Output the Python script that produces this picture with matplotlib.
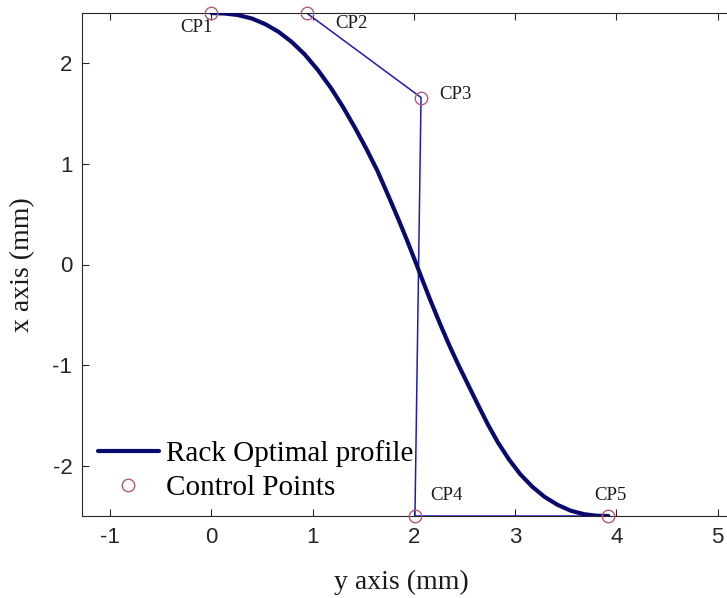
import numpy as np
import matplotlib
matplotlib.use("Agg")
import matplotlib.pyplot as plt

plt.rcParams["axes.unicode_minus"] = False

# control points (y axis, x axis) in mm
cp_y = [0.0, 0.94, 2.07, 2.01, 3.92]
cp_x = [2.5, 2.5, 1.66, -2.5, -2.5]
cp_names = ["CP1", "CP2", "CP3", "CP4", "CP5"]

# rack profile
prof_y = [0.00, 0.13, 0.26, 0.40, 0.53, 0.66, 0.79, 0.92, 1.05, 1.18, 1.30, 1.42,
          1.53, 1.64, 1.74, 1.84, 1.93, 2.01, 2.09, 2.17, 2.26, 2.35, 2.44, 2.53,
          2.63, 2.73, 2.83, 2.94, 3.05, 3.17, 3.29, 3.42, 3.55, 3.68, 3.80, 3.92]
prof_x = [2.500, 2.495, 2.480, 2.445, 2.390, 2.315, 2.215, 2.090, 1.935, 1.755, 1.565, 1.355,
          1.150, 0.930, 0.700, 0.465, 0.245, 0.040, -0.170, -0.375, -0.595, -0.805, -1.000, -1.185,
          -1.390, -1.590, -1.770, -1.940, -2.085, -2.210, -2.310, -2.390, -2.448, -2.482, -2.497, -2.500]

# label offsets in points (layout only)
lab_off = [(-10.5, -10.5), (32.5, -7.5), (24.5, 2.5), (23, 15), (1.5, 15)]

fig = plt.figure(figsize=(7.27, 5.98), dpi=100)
W, H = 727, 598
ax = fig.add_axes([82 / W, 82 / H, 658 / W, 503 / H])

ax.plot(cp_y, cp_x, color="#1c1cb4", lw=1.1, zorder=2)
ax.plot(prof_y, prof_x, color="#0a0a6e", lw=3.0, solid_capstyle="round",
        solid_joinstyle="round", label="Rack Optimal profile", zorder=3)
ax.plot(cp_y, cp_x, ls="none", marker="o", ms=9, mfc="none", mec="#b35a78",
        mew=1.0, label="Control Points", zorder=4, clip_on=False)

for yy, xx, name, off in zip(cp_y, cp_x, cp_names, lab_off):
    ax.annotate(name, (yy, xx), xytext=off, textcoords="offset points",
                ha="center", va="center", fontsize=13.5,
                family="Liberation Serif", color="#1a1a1a")

ax.set_xlim(-1.278, 5.22)
ax.set_ylim(-2.5, 2.5)
ax.set_xticks([-1, 0, 1, 2, 3, 4, 5])
ax.set_yticks([-2, -1, 0, 1, 2])
ax.tick_params(direction="in", top=True, right=True, length=5, width=0.8,
               colors="#262626", labelsize=16)
ax.tick_params(axis="x", pad=8)
ax.tick_params(axis="y", pad=7)
for lab in ax.get_xticklabels() + ax.get_yticklabels():
    lab.set_family("Liberation Sans")
for s in ax.spines.values():
    s.set_color("#262626")
    s.set_linewidth(0.8)

ax.set_xlabel("y axis (mm)", fontsize=20, family="Liberation Serif", color="#1a1a1a")
ax.set_ylabel("x axis (mm)", fontsize=20, family="Liberation Serif", color="#1a1a1a")
ax.xaxis.label.set_va("center")
ax.yaxis.label.set_va("center")
ax.xaxis.set_label_coords(0.486, -0.133)
ax.yaxis.set_label_coords(-0.0897, 0.50)

ax.legend(loc="lower left", bbox_to_anchor=(0.024, 0.03), frameon=False,
          borderpad=0, borderaxespad=0, handlelength=2.1, handletextpad=0.25,
          labelspacing=0.25, numpoints=1,
          prop={"family": "Liberation Serif", "size": 21})

fig.savefig("out.png", dpi=100)
